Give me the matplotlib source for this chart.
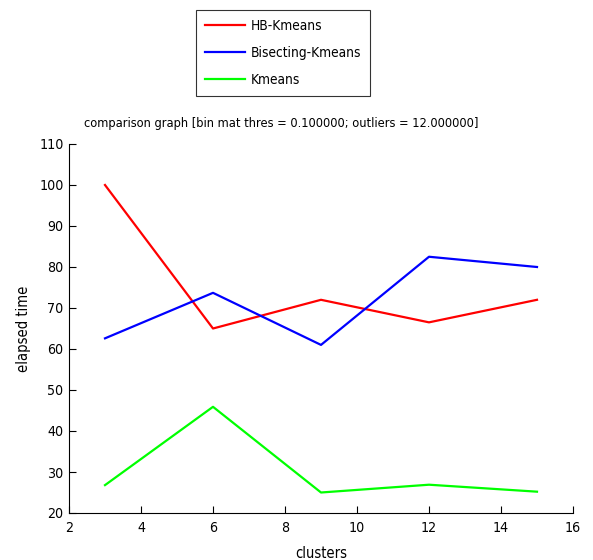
import matplotlib
matplotlib.use("Agg")
import matplotlib.pyplot as plt

clusters = [3, 6, 9, 12, 15]
hb_kmeans = [100.0, 65.0, 72.0, 66.5, 72.0]
bisecting_kmeans = [62.6, 73.7, 61.0, 82.5, 80.0]
kmeans = [26.8, 45.9, 25.0, 26.9, 25.2]
series_names = ["HB-Kmeans", "Bisecting-Kmeans", "Kmeans"]
xticks = [2, 4, 6, 8, 10, 12, 14, 16]
yticks = [20, 30, 40, 50, 60, 70, 80, 90, 100, 110]
title = "comparison graph [bin mat thres = 0.100000; outliers = 12.000000]"

plt.rcParams['font.family'] = ['DejaVu Sans']
plt.rcParams['font.stretch'] = 'condensed'

fig = plt.figure(figsize=(5.93, 5.60), dpi=100)
ax = fig.add_axes([69/593, 1-513/560, 504/593, 369/560])

lines = []
for vals, col, name in zip([hb_kmeans, bisecting_kmeans, kmeans],
                           ['#ff0000', '#0000ff', '#00ff00'], series_names):
    l, = ax.plot(clusters, vals, color=col, lw=1.6, label=name)
    lines.append(l)

ax.set_xlim(2, 16)
ax.set_ylim(20, 110)
ax.set_xticks(xticks)
ax.set_yticks(yticks)
ax.spines['top'].set_visible(False)
ax.spines['right'].set_visible(False)
ax.tick_params(direction='in', length=5, labelsize=10.2, colors='black')
ax.tick_params(axis='x', pad=6)
ax.tick_params(axis='y', pad=4)
ax.set_xlabel("clusters", fontsize=10.5, labelpad=8)
ax.set_ylabel("elapsed time", fontsize=10.5, labelpad=6)
fig.text(281/593, 1-124/560, title, fontsize=9.2, ha='center', va='center')

leg = fig.legend(handles=lines, loc='upper center', bbox_to_anchor=(283/593, 1-10/560),
                 fontsize=9.8, frameon=True, fancybox=False, edgecolor='black',
                 handlelength=3.0, handletextpad=0.4, borderpad=0.65,
                 labelspacing=0.95, borderaxespad=0)
leg.get_frame().set_linewidth(0.8)

fig.savefig("out.png", dpi=100)
